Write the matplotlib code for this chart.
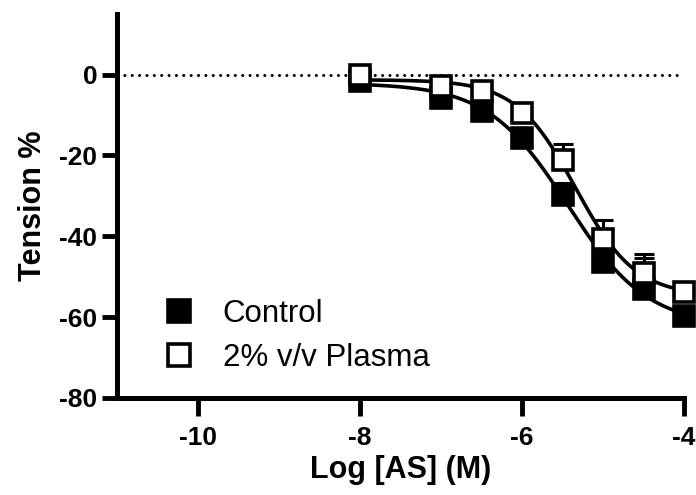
import numpy as np
import matplotlib
matplotlib.use('Agg')
import matplotlib.pyplot as plt

# 読み取った値
log_conc = [-8, -7, -6.5, -6, -5.5, -5, -4.5, -4]
control = [-1.5, -5.7, -9.1, -15.8, -29.9, -46.3, -53.0, -59.7]
control_err = [1.0, 1.0, 1.2, 1.5, 3.0, 2.0, 7.5, 1.5]
plasma = [0.0, -2.8, -4.0, -9.4, -21.2, -40.6, -49.0, -53.7]
plasma_err = [1.0, 1.2, 1.2, 1.5, 3.9, 4.6, 4.5, 1.5]
x_ticks = [-10, -8, -6, -4]
y_ticks = [0, -20, -40, -60, -80]


def fit_logistic(x, y):
    # 4パラメータロジスティック: top/bottomは線形最小二乗、EC50と傾きはグリッド探索
    x = np.asarray(x)
    y = np.asarray(y)
    best = None
    for c in np.linspace(-7.5, -3.5, 201):
        for h in np.linspace(0.3, 3.0, 136):
            s = 1.0 / (1.0 + 10 ** ((c - x) * h))
            A = np.column_stack([1 - s, s])
            coef, *_ = np.linalg.lstsq(A, y, rcond=None)
            r = np.sum((A @ coef - y) ** 2)
            if best is None or r < best[0]:
                best = (r, c, h, coef)
    _, c, h, (top, bottom) = best
    return lambda xx: top * (1 - 1.0 / (1.0 + 10 ** ((c - xx) * h))) + bottom / (1.0 + 10 ** ((c - xx) * h))


plt.rcParams['font.family'] = ['Liberation Sans', 'DejaVu Sans']

fig = plt.figure(figsize=(6.96, 4.95), dpi=100)
ax = fig.add_axes([0.168, 0.196, 0.815, 0.776])

ax.axhline(0, color='black', linestyle=(0, (0.01, 2.4)), linewidth=2.2, dash_capstyle='round', zorder=1)

xs = np.linspace(-8, -4, 200)
for y, err, face, label, z in [(control, control_err, 'black', 'Control', 3),
                               (plasma, plasma_err, 'white', '2% v/v Plasma', 4)]:
    f = fit_logistic(log_conc, y)
    ax.plot(xs, f(xs), color='black', linewidth=2.6, zorder=z, clip_on=False)
    ax.errorbar(log_conc, y, yerr=[np.zeros(len(err)), err], fmt='none', ecolor='black',
                elinewidth=2.2, capsize=7, capthick=2.2, zorder=z, clip_on=False)
    ax.plot(log_conc, y, linestyle='none', marker='s', markersize=15, markerfacecolor=face,
            markeredgecolor='black', markeredgewidth=2.6, label=label, zorder=z + 0.5, clip_on=False)

ax.set_xlim(-11, -4)
ax.set_ylim(-80, 15)
ax.set_xticks(x_ticks)
ax.set_yticks(y_ticks)
ax.set_xticklabels([str(t) for t in x_ticks], fontsize=19, fontweight='bold')
ax.set_yticklabels([str(t) for t in y_ticks], fontsize=19, fontweight='bold')
ax.tick_params(axis='both', width=3.5, length=11, color='black', pad=3)
ax.tick_params(axis='x', length=13, pad=7)
for side in ['top', 'right']:
    ax.spines[side].set_visible(False)
for side in ['left', 'bottom']:
    ax.spines[side].set_linewidth(3.6)

ax.set_xlabel('Log [AS] (M)', fontsize=22, fontweight='bold', labelpad=4)
ax.set_ylabel('Tension %', fontsize=22, fontweight='bold', labelpad=8)

leg = ax.legend(loc='lower left', bbox_to_anchor=(0.06, 0.032), frameon=False, fontsize=22.5,
                handlelength=1.0, handletextpad=0.9, labelspacing=0.45, borderaxespad=0)
for h in leg.legend_handles:
    h.set_markersize(16)

fig.savefig('out.png', dpi=100)
